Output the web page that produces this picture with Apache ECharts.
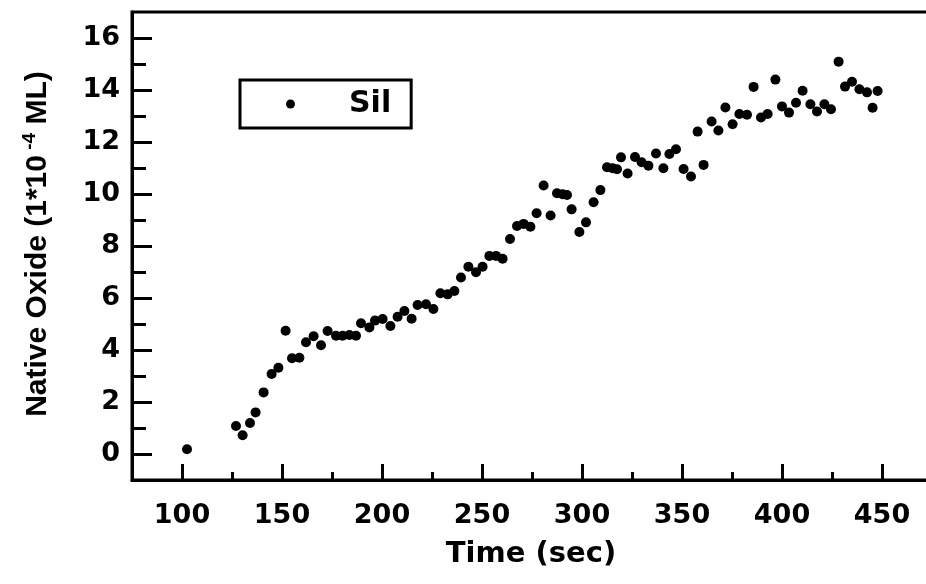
<!DOCTYPE html>
<html><head><meta charset="utf-8">
<script src="https://cdn.jsdelivr.net/npm/echarts@6/dist/echarts.min.js"></script>
<style>html,body{margin:0;padding:0;background:#fff}#c{width:926px;height:584px}</style>
</head><body><div id="c"></div>
<script>
const seriesName = 'Sil';
const timeSec = [102.5,127,130.3,134,136.8,140.8,144.8,148.2,151.8,155,158.7,162,165.8,169.5,172.8,177,180.3,183.7,187,189.5,193.7,196.5,200.3,204.2,207.8,211.2,214.8,217.8,222,225.7,229.2,232.8,236.2,239.5,243.2,247,250.3,253.7,257,260.3,264,267.5,270.8,274.2,277.3,280.8,284.3,287.5,290.3,292.5,294.8,298.7,302,305.8,309.2,312.5,315.3,317.5,319.5,322.8,326.5,329.8,333.2,337,340.7,343.7,347,350.8,354.5,357.8,360.8,364.8,368.2,371.7,375.3,378.7,382.5,385.8,389.5,392.8,396.7,400,403.5,407,410.3,414.2,417.5,421.2,424.5,428.3,431.5,435,438.7,442.5,445.3,447.8];
const nativeOxide = [0.18,1.08,0.72,1.19,1.6,2.37,3.08,3.32,4.74,3.68,3.7,4.3,4.53,4.18,4.73,4.55,4.55,4.58,4.55,5.03,4.87,5.13,5.19,4.92,5.28,5.5,5.2,5.73,5.76,5.58,6.18,6.14,6.27,6.79,7.2,6.99,7.2,7.62,7.62,7.51,8.27,8.77,8.85,8.74,9.26,10.33,9.17,10.03,9.99,9.96,9.41,8.54,8.91,9.68,10.15,11.03,10.99,10.95,11.41,10.79,11.42,11.22,11.09,11.56,10.99,11.54,11.72,10.96,10.67,12.4,11.12,12.79,12.44,13.33,12.68,13.08,13.05,14.12,12.94,13.08,14.4,13.37,13.13,13.51,13.97,13.45,13.17,13.45,13.26,15.09,14.13,14.32,14.03,13.91,13.32,13.96];
const xMajorTicks = [100,150,200,250,300,350,400,450];
const xMinorTicks = [125,175,225,275,325,375,425];
const yMajorTicks = [0,2,4,6,8,10,12,14,16];
const yMinorTicks = [1,3,5,7,9,11,13,15];
const xTitle = 'Time (sec)';
const yTitleMain = 'Native Oxide (1*10';
const yTitleSup = '-4';
const yTitleEnd = ' ML)';

const points = timeSec.map((t, i) => [t, nativeOxide[i]]);
const wide = 'DejaVu Sans';
const lblStyle = {fontFamily: wide, fontWeight: 'bold', fontSize: 27, color: '#000'};

const chart = echarts.init(document.getElementById('c'), null, {renderer: 'canvas'});
chart.setOption({
  backgroundColor: '#fff',
  animation: false,
  grid: {left: 132, top: 12, width: 800, height: 468, show: true, borderColor: '#000', borderWidth: 3, containLabel: false, outerBoundsMode: 'none'},
  xAxis: [
    {type: 'value', min: 75, max: 475, position: 'bottom',
     axisLine: {show: true, onZero: false, lineStyle: {color: '#000', width: 3}},
     axisTick: {show: true, inside: true, length: 16, lineStyle: {color: '#000', width: 3}, customValues: xMajorTicks},
     axisLabel: Object.assign({customValues: xMajorTicks, margin: 22}, lblStyle),
     splitLine: {show: false}},
    {type: 'value', min: 75, max: 475, position: 'bottom',
     axisLine: {show: false, onZero: false},
     axisTick: {show: true, inside: true, length: 8, lineStyle: {color: '#000', width: 3}, customValues: xMinorTicks},
     axisLabel: {show: false}, splitLine: {show: false}}
  ],
  yAxis: [
    {type: 'value', min: -1, max: 17, position: 'left',
     axisLine: {show: true, onZero: false, lineStyle: {color: '#000', width: 3}},
     axisTick: {show: true, inside: true, length: 20, lineStyle: {color: '#000', width: 3}, customValues: yMajorTicks},
     axisLabel: Object.assign({customValues: yMajorTicks, margin: 12}, lblStyle),
     splitLine: {show: false}},
    {type: 'value', min: -1, max: 17, position: 'left',
     axisLine: {show: false, onZero: false},
     axisTick: {show: true, inside: true, length: 14, lineStyle: {color: '#000', width: 3}, customValues: yMinorTicks},
     axisLabel: {show: false}, splitLine: {show: false}}
  ],
  legend: {
    data: [seriesName], left: 240, top: 80, orient: 'horizontal',
    padding: [9, 20, 9, 46], itemWidth: 9, itemHeight: 9, itemGap: 0,
    borderColor: '#000', borderWidth: 3, borderRadius: 0, backgroundColor: '#fff',
    icon: 'circle',
    itemStyle: {color: '#000', opacity: 1},
    textStyle: {fontFamily: wide, fontWeight: 'bold', fontSize: 30, lineHeight: 30, color: '#000', padding: [0, 0, 0, 49]}
  },
  series: [{
    name: seriesName, type: 'scatter', xAxisIndex: 0, yAxisIndex: 0,
    data: points, symbol: 'circle', symbolSize: 10,
    itemStyle: {color: '#000', opacity: 1}
  }],
  graphic: [
    {type: 'text', x: 531, y: 554, style: {text: xTitle, fontFamily: wide, fontWeight: 'bold', fontSize: 29, fill: '#000', align: 'center', verticalAlign: 'middle'}},
    {type: 'text', x: 38, y: 244, rotation: Math.PI / 2,
     style: {text: '{m|' + yTitleMain + '}{s| ' + yTitleSup + '}{m|' + yTitleEnd + '}', align: 'center', verticalAlign: 'middle',
       rich: {
         m: {fontFamily: 'Liberation Sans', fontWeight: 'bold', fontSize: 30, lineHeight: 36, fill: '#000', color: '#000', verticalAlign: 'middle'},
         s: {fontFamily: 'Liberation Sans', fontWeight: 'bold', fontSize: 19, lineHeight: 19, fill: '#000', color: '#000', verticalAlign: 'top'}
       }}}
  ]
});
</script>
</body></html>
